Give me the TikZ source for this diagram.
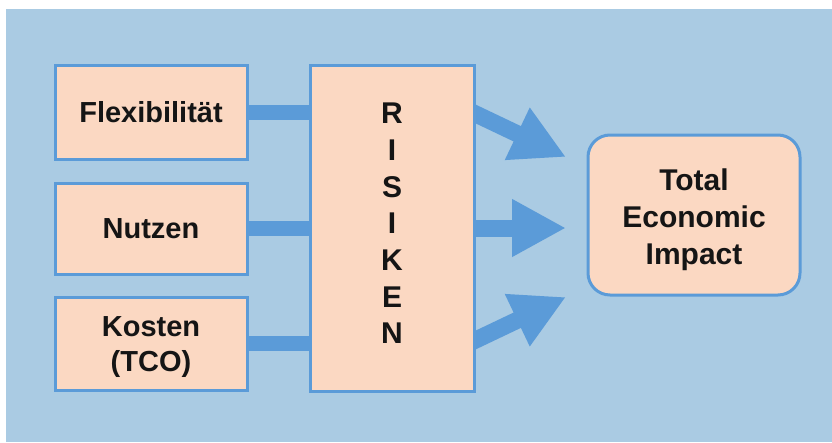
\documentclass[tikz,border=0pt]{standalone}
\usepackage{fontspec}
\setmainfont{Liberation Sans}
\usetikzlibrary{arrows.meta}
\pgfdeclarelayer{bottom}
\pgfdeclarelayer{mid}
\pgfsetlayers{bottom,mid,main}
\definecolor{bgblue}{HTML}{AACBE3}
\definecolor{peach}{HTML}{FBD8C2}
\definecolor{lineblue}{HTML}{5B9BD8}
\definecolor{txt}{HTML}{151515}
\tikzset{
  box/.style={draw=lineblue, line width=3pt, fill=peach, inner sep=0pt},
  label text/.style={align=center, text=txt, inner sep=0pt,
    font=\fontsize{29}{35}\selectfont\bfseries},
  bar/.style={draw=lineblue, line width=15pt},
  bigarrow/.style={draw=lineblue, line width=17pt,
    -{Triangle[length=54pt,width=54pt]}, fill=lineblue},
}
\begin{document}
\begin{tikzpicture}[x=1pt,y=-1pt]
\useasboundingbox (0,0) rectangle (832,442);
\begin{pgfonlayer}{bottom}
\fill[white] (0,0) rectangle (832,442);
\fill[bgblue] (6,9) rectangle (832,442);
\end{pgfonlayer}

\node[box, minimum width=192pt, minimum height=94pt] (flex) at (151,112) {};
\node[box, minimum width=192pt, minimum height=91pt] (nutzen) at (151,228.5) {};
\node[box, minimum width=192pt, minimum height=93pt] (kosten) at (151,343.5) {};
\node[box, minimum width=164pt, minimum height=326pt] (risiken) at (392,228) {};
\node[box, minimum width=212pt, minimum height=160pt, rounded corners=22pt] (tei) at (694,215) {};

\node[label text] (flext) at (151,112) {Flexibilität};
\node[label text] (nutzent) at (151,228.5) {Nutzen};
\node[label text] (kostent) at (151,347.5) {Kosten\\(TCO)};
\node[label text, font=\fontsize{30}{36.7}\selectfont\bfseries] (risikent) at (392,223.5) {R\\I\\S\\I\\K\\E\\N};
\node[label text, font=\fontsize{30}{36.8}\selectfont\bfseries] (teit) at (694,219.5) {Total\\Economic\\Impact};

\draw[bar] (flex.east) -- (flex.east -| risiken.west);
\draw[bar] (nutzen.east) -- (nutzen.east -| risiken.west);
\draw[bar] (kosten.east) -- (kosten.east -| risiken.west);

\coordinate (a1s) at (440,97);
\coordinate (a1e) at (566,157);
\coordinate (a2s) at (440,228);
\coordinate (a2e) at (566,228);
\coordinate (a3s) at (440,357);
\coordinate (a3e) at (566,297);
\begin{pgfonlayer}{mid}
\draw[bigarrow] (a1s) -- (a1e);
\draw[bigarrow] (a2s) -- (a2e);
\draw[bigarrow] (a3s) -- (a3e);
\end{pgfonlayer}
\end{tikzpicture}
\end{document}
